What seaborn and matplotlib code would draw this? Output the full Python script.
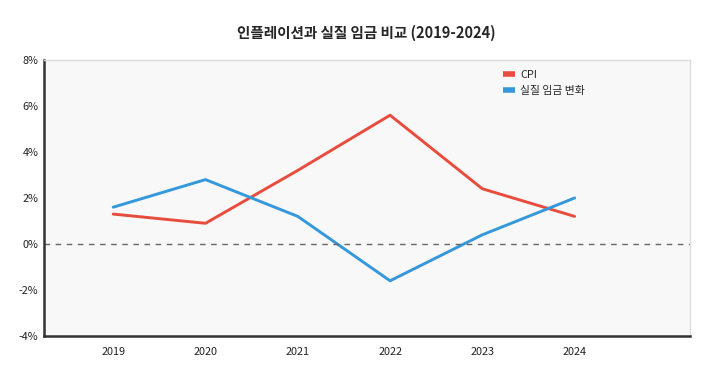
import matplotlib
matplotlib.use("Agg")
import matplotlib.pyplot as plt
import seaborn as sns
import pandas as pd
from matplotlib.ticker import FuncFormatter

years = ["2019", "2020", "2021", "2022", "2023", "2024"]
cpi = [1.3, 0.9, 3.2, 5.6, 2.4, 1.2]
real_wage = [1.6, 2.8, 1.2, -1.6, 0.4, 2.0]
series_names = ["CPI", "실질 임금 변화"]
colors = ["#e74c3c", "#3498db"]

df = pd.DataFrame({
    "year": years * 2,
    "value": cpi + real_wage,
    "series": [series_names[0]] * len(years) + [series_names[1]] * len(years),
})

sns.set_theme(style="white")
plt.rcParams["font.family"] = ["Noto Sans CJK KR", "DejaVu Sans"]

fig = plt.figure(figsize=(7.18, 3.87), dpi=100)
ax = fig.add_axes([0.0613, 0.1318, 0.8997, 0.7132])
ax.set_facecolor("#f8f8f8")

sns.lineplot(data=df, x="year", y="value", hue="series", palette=colors,
             linewidth=2.1, ax=ax, sort=False)

ax.axhline(0, color="#666666", linestyle=(0, (4, 4)), linewidth=1)
ax.set_xlim(-0.75, 6.25)
ax.set_ylim(-4, 8)
ax.set_yticks([-4, -2, 0, 2, 4, 6, 8])
ax.yaxis.set_major_formatter(FuncFormatter(lambda v, p: f"{v:.0f}%"))
ax.set_xlabel("")
ax.set_ylabel("")
ax.tick_params(axis="both", labelsize=7.8, length=0, pad=4, colors="#222222")
ax.tick_params(axis="x", pad=8)

for s in ["top", "right"]:
    ax.spines[s].set_color("#dddddd")
    ax.spines[s].set_linewidth(1)
for s in ["left", "bottom"]:
    ax.spines[s].set_color("#333333")
    ax.spines[s].set_linewidth(1.8)

leg = ax.legend(loc="upper left", bbox_to_anchor=(0.695, 1.0), frameon=False,
                fontsize=7.8, handlelength=1.1, handletextpad=0.5, labelspacing=0.6)
for line in leg.get_lines():
    line.set_linewidth(4)
    line.set_solid_capstyle("butt")

fig.suptitle("인플레이션과 실질 임금 비교 (2019-2024)", x=0.51, y=0.935,
             fontsize=10.5, fontweight="bold")

fig.savefig("out.png", dpi=100, facecolor="white")
